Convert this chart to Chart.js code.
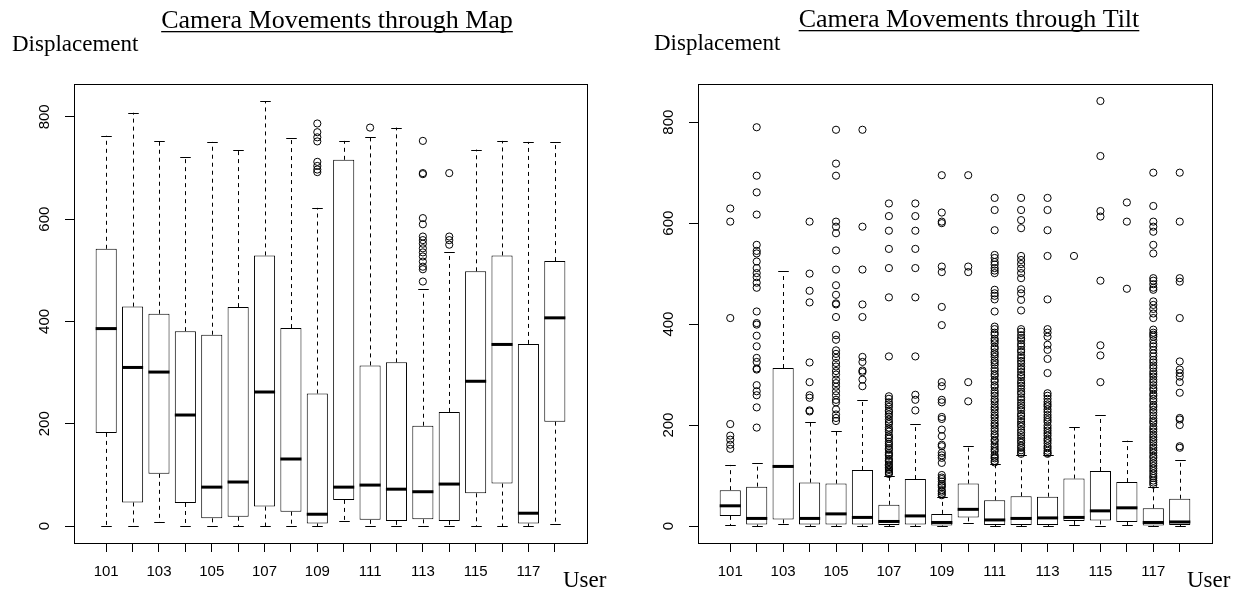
<!DOCTYPE html>
<html>
<head>
<meta charset="utf-8">
<title>Camera Movements</title>
<script src="https://cdn.jsdelivr.net/npm/chart.js@4.4.1/dist/chart.umd.min.js"></script>
<style>
  html, body { margin: 0; padding: 0; background: #fff; }
  #wrap { position: relative; width: 1238px; height: 591px; }
  #wrap canvas { position: absolute; top: 0; }
  #mapChart { left: 0; }
  #tiltChart { left: 619px; }
</style>
</head>
<body>
<div id="wrap">
  <canvas id="mapChart" width="619" height="591"></canvas>
  <canvas id="tiltChart" width="619" height="591"></canvas>
</div>
<script>
// users on the x axis, every other one gets a label (like R does)
const users = ['101', '102', '103', '104', '105', '106', '107', '108', '109',
               '110', '111', '112', '113', '114', '115', '116', '117', '118'];
const yTicks = [0, 200, 400, 600, 800];

// Map: whisker low, Q1, median, Q3, whisker high, outliers
const mapLow  = [0, 0, 8, 0, 0, 0, 0, 0, 0, 10, 0, 0, 0, 0, 0, 0, 0, 3];
const mapQ1   = [182, 46, 102, 45, 15, 18, 38, 28, 5, 51, 12, 10, 13, 10, 64, 83, 5, 204];
const mapMed  = [386, 310, 301, 217, 76, 86, 262, 131, 23, 76, 80, 72, 67, 82, 283, 355, 25, 407];
const mapQ3   = [542, 429, 415, 381, 374, 428, 529, 387, 259, 716, 314, 320, 196, 223, 498, 529, 356, 518];
const mapHigh = [763, 808, 752, 722, 751, 736, 831, 759, 622, 753, 760, 779, 463, 535, 736, 753, 751, 751];
const mapOut = [
  [], [], [], [], [], [], [], [],
  [787, 770, 760, 752, 712, 704, 697, 692],
  [],
  [779],
  [],
  [753, 690, 688, 602, 590, 566, 559, 552, 543, 535, 527, 517, 507, 502, 478],
  [690, 566, 559, 550],
  [], [], [], []
];

// Tilt
const tiltLow  = [2, 0, 3, 0, 0, 0, 0, 0, 0, 5, 0, 0, 0, 2, 0, 2, 0, 0];
const tiltQ1   = [20, 3, 13, 3, 3, 3, 2, 3, 1, 17, 2, 2, 2, 10, 11, 8, 1, 2];
const tiltMed  = [40, 15, 118, 15, 24, 17, 9, 20, 7, 33, 12, 15, 16, 17, 30, 36, 7, 8];
const tiltQ3   = [71, 78, 313, 86, 84, 111, 42, 93, 24, 84, 51, 59, 58, 94, 109, 87, 35, 54];
const tiltHigh = [121, 125, 505, 206, 188, 250, 100, 202, 57, 158, 122, 140, 140, 196, 219, 169, 78, 130];
const tiltOut = [
  [629, 603, 412, 202, 179, 171, 161, 153],
  [790, 694, 661, 617, 557, 545, 540, 524, 511, 501, 493, 482, 472, 425, 402, 399, 377, 356, 333, 325, 312, 310, 279, 267, 259, 235, 195],
  [],
  [603, 500, 466, 443, 324, 285, 259, 254, 229, 227],
  [785, 718, 694, 603, 593, 580, 546, 508, 477, 458, 441, 439, 414, 378, 369, 348, 341, 333, 323, 316, 307, 300, 290, 283, 276, 267, 259, 250, 245, 231, 221, 214, 208],
  [785, 593, 508, 439, 414, 335, 325, 308, 305, 290, 277],
  [639, 614, 585, 549, 511, 453, 336, 257, 252, 245, 241, 236, 229, 226, 221, 217, 211, 206, 202, 195, 191, 187, 180, 176, 173, 167, 163, 159, 154, 151, 145, 142, 139, 133, 130, 127, 122, 120, 116, 113, 111, 107, 105, 103],
  [639, 614, 585, 549, 511, 453, 336, 260, 250, 229],
  [695, 621, 603, 600, 514, 503, 434, 398, 285, 277, 250, 245, 216, 212, 191, 178, 161, 158, 145, 140, 135, 125, 101, 96, 93, 88, 83, 80, 77, 71, 68, 64, 61],
  [695, 514, 503, 285, 247],
  [650, 626, 586, 537, 531, 523, 518, 511, 506, 501, 468, 461, 456, 449, 425, 395, 390, 383, 379, 371, 367, 362, 355, 351, 344, 340, 335, 328, 324, 319, 312, 307, 301, 297, 290, 286, 279, 275, 268, 263, 258, 251, 247, 241, 235, 231, 225, 219, 215, 209, 203, 199, 193, 188, 182, 178, 171, 168, 162, 157, 152, 148, 141, 137, 134, 129, 126],
  [650, 626, 606, 590, 535, 527, 519, 510, 501, 491, 469, 461, 448, 427, 390, 385, 378, 372, 368, 361, 356, 349, 345, 338, 333, 327, 322, 316, 311, 305, 299, 295, 288, 283, 278, 272, 266, 262, 255, 250, 244, 239, 234, 229, 222, 218, 212, 206, 201, 197, 190, 185, 180, 174, 169, 165, 159, 155, 150, 146, 143],
  [650, 626, 586, 535, 449, 390, 383, 375, 359, 349, 331, 303, 263, 258, 252, 246, 241, 237, 231, 226, 220, 215, 210, 206, 199, 194, 189, 184, 179, 173, 169, 164, 158, 154, 149, 145, 143],
  [535],
  [842, 733, 624, 613, 486, 358, 338, 285],
  [641, 603, 470],
  [700, 634, 603, 593, 583, 557, 540, 491, 486, 479, 472, 468, 445, 438, 430, 421, 412, 379, 356, 349, 342, 336, 329, 389, 383, 375, 368, 361, 324, 318, 313, 306, 301, 296, 290, 285, 279, 273, 269, 262, 258, 252, 247, 240, 236, 230, 225, 219, 213, 208, 204, 197, 192, 187, 181, 176, 171, 166, 160, 155, 150, 145, 139, 135, 129, 124, 119, 114, 109, 104, 99, 95, 90, 86, 82],
  [700, 603, 491, 484, 412, 326, 310, 303, 296, 285, 264, 214, 211, 200, 158, 155]
];

// whiskers, staples and the thick median line, drawn on the chart's own scales
function boxPlugin(low, q1, med, q3, high) {
  return {
    id: 'boxWhiskers',
    afterDatasetsDraw(chart) {
      const x = chart.scales.x, y = chart.scales.y;
      const bars = chart.getDatasetMeta(0).data;
      const ctx = chart.ctx;
      ctx.save();
      ctx.strokeStyle = '#000';
      bars.forEach((bar, i) => {
        const cx = Math.round(x.getPixelForValue(i + 1)) + 0.5;
        const w = bar.width;
        ctx.lineWidth = 1;
        ctx.setLineDash([4, 4]);
        ctx.beginPath();
        ctx.moveTo(cx, y.getPixelForValue(q3[i]));
        ctx.lineTo(cx, y.getPixelForValue(high[i]));
        ctx.moveTo(cx, y.getPixelForValue(q1[i]));
        ctx.lineTo(cx, y.getPixelForValue(low[i]));
        ctx.stroke();
        ctx.setLineDash([]);
        ctx.beginPath();
        [low[i], high[i]].forEach(v => {
          const py = Math.round(y.getPixelForValue(v)) + 0.5;
          ctx.moveTo(cx - w / 4, py);
          ctx.lineTo(cx + w / 4, py);
        });
        ctx.stroke();
        ctx.lineWidth = 3;
        const pm = y.getPixelForValue(med[i]);
        ctx.beginPath();
        ctx.moveTo(bar.x - w / 2, pm);
        ctx.lineTo(bar.x + w / 2, pm);
        ctx.stroke();
      });
      ctx.restore();
    }
  };
}

// frame, underlined title and the two axis captions
const panelText = {
  id: 'panelText',
  afterDraw(chart, args, opts) {
    const ctx = chart.ctx;
    const a = chart.chartArea;
    ctx.save();
    ctx.strokeStyle = '#000';
    ctx.lineWidth = 1;
    ctx.strokeRect(Math.round(a.left) + 0.5, Math.round(a.top) + 0.5,
                   Math.round(a.right - a.left), Math.round(a.bottom - a.top));
    ctx.fillStyle = '#000';
    ctx.textBaseline = 'alphabetic';
    ctx.font = '26px "Liberation Serif"';
    ctx.textAlign = 'center';
    ctx.fillText(opts.title, opts.titleX, opts.titleY);
    const tw = ctx.measureText(opts.title).width;
    ctx.fillRect(opts.titleX - tw / 2, opts.titleY + 3, tw, 1.3);
    ctx.font = '23px "Liberation Serif"';
    ctx.textAlign = 'left';
    ctx.fillText('Displacement', opts.yLabelX, opts.yLabelY);
    ctx.fillText('User', opts.xLabelX, opts.xLabelY);
    ctx.restore();
  }
};

function makeChart(id, low, q1, med, q3, high, out, text, axisWidth, padRight) {
  const allHigh = high.concat(...out);
  const top = Math.max(...allHigh);
  const bot = Math.min(...low);
  const pad = (top - bot) * 0.04;

  const outliers = [];
  out.forEach((list, i) => list.forEach(v => outliers.push({ x: i + 1, y: v })));

  const tickFont = { family: 'Liberation Sans', size: 15 };

  return new Chart(document.getElementById(id), {
    type: 'bar',
    data: {
      datasets: [{
        type: 'bar',
        data: users.map((u, i) => ({ x: i + 1, y: [q1[i], q3[i]] })),
        backgroundColor: '#fff',
        borderColor: '#000',
        borderWidth: 1,
        borderSkipped: false,
        barPercentage: 0.8,
        categoryPercentage: 1
      }, {
        type: 'scatter',
        data: outliers,
        pointRadius: 3.6,
        pointBorderWidth: 1,
        pointBorderColor: '#000',
        pointBackgroundColor: 'rgba(0,0,0,0)'
      }]
    },
    options: {
      responsive: false,
      animation: false,
      layout: { padding: { left: 0, right: padRight, top: 84, bottom: 0 } },
      plugins: {
        legend: { display: false },
        tooltip: { enabled: false },
        panelText: text
      },
      scales: {
        x: {
          type: 'linear',
          min: 1 - 1.22,
          max: users.length + 1.22,
          offset: false,
          afterBuildTicks: s => { s.ticks = users.map((u, i) => ({ value: i + 1 })); },
          afterFit: s => { s.height = 48; },
          ticks: {
            autoSkip: false,
            maxRotation: 0,
            padding: 11,
            color: '#000',
            font: tickFont,
            callback: v => ((v - 1) % 2 === 0 ? users[v - 1] : '')
          },
          grid: { drawOnChartArea: false, offset: false, tickLength: 9, color: '#000' },
          border: { display: false }
        },
        y: {
          min: bot - pad,
          max: top + pad,
          afterBuildTicks: s => { s.ticks = yTicks.map(v => ({ value: v })); },
          afterFit: s => { s.width = axisWidth; },
          ticks: {
            minRotation: 90,
            maxRotation: 90,
            crossAlign: 'center',
            padding: 8,
            color: '#000',
            font: tickFont
          },
          grid: { drawOnChartArea: false, tickLength: 9, color: '#000' },
          border: { display: false }
        }
      }
    },
    plugins: [boxPlugin(low, q1, med, q3, high), panelText]
  });
}

makeChart('mapChart', mapLow, mapQ1, mapMed, mapQ3, mapHigh, mapOut, {
  title: 'Camera Movements through Map', titleX: 337, titleY: 28,
  yLabelX: 12, yLabelY: 51, xLabelX: 563, xLabelY: 587
}, 74, 32);

makeChart('tiltChart', tiltLow, tiltQ1, tiltMed, tiltQ3, tiltHigh, tiltOut, {
  title: 'Camera Movements through Tilt', titleX: 350, titleY: 27,
  yLabelX: 35, yLabelY: 50, xLabelX: 568, xLabelY: 587
}, 79, 26);
</script>
</body>
</html>
